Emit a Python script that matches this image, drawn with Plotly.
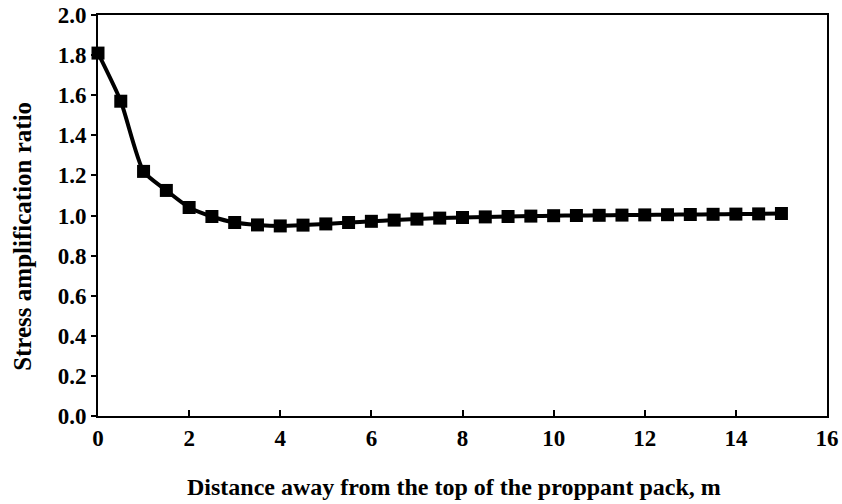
import plotly.graph_objects as go

distance = [0, 0.5, 1, 1.5, 2, 2.5, 3, 3.5, 4, 4.5, 5, 5.5, 6, 6.5, 7, 7.5, 8, 8.5, 9, 9.5,
            10, 10.5, 11, 11.5, 12, 12.5, 13, 13.5, 14, 14.5, 15]
ratio = [1.81, 1.57, 1.22, 1.125, 1.04, 0.995, 0.965, 0.953, 0.948, 0.952, 0.958, 0.965,
         0.971, 0.977, 0.982, 0.987, 0.99, 0.993, 0.995, 0.997, 0.999, 1.0, 1.001, 1.002,
         1.003, 1.004, 1.005, 1.006, 1.007, 1.008, 1.01]

x_ticks = [0, 2, 4, 6, 8, 10, 12, 14, 16]
y_ticks = [0.0, 0.2, 0.4, 0.6, 0.8, 1.0, 1.2, 1.4, 1.6, 1.8, 2.0]

x_title = "Distance away from the top of the proppant pack, m"
y_title = "Stress amplification ratio"

font = "Liberation Serif"

fig = go.Figure()
fig.add_trace(go.Scatter(
    x=distance, y=ratio, mode="lines+markers",
    line=dict(color="black", width=4, shape="spline", smoothing=0.6),
    marker=dict(symbol="square", size=13, color="black"),
    showlegend=False, cliponaxis=False,
))

fig.update_layout(
    width=842, height=504,
    margin=dict(l=98, r=15, t=15, b=88),
    paper_bgcolor="white", plot_bgcolor="white",
    font=dict(family=font, size=22, color="black"),
    annotations=[
        dict(text=f"<b>{x_title}</b>", xref="paper", yref="paper", x=0.488, y=-0.178,
             xanchor="center", yanchor="middle", showarrow=False,
             font=dict(family=font, size=24, color="black")),
        dict(text=f"<b>{y_title}</b>", xref="paper", yref="paper", x=-0.103, y=0.449,
             xanchor="center", yanchor="middle", showarrow=False, textangle=-90,
             font=dict(family=font, size=25, color="black")),
    ],
)
fig.update_xaxes(
    range=[0, 16], tickvals=x_ticks, ticktext=[f"<b>{v}</b>" for v in x_ticks],
    showgrid=False, zeroline=False, showline=True, linecolor="black", linewidth=2,
    mirror=True, ticks="inside", ticklen=6, tickwidth=2, tickcolor="black",
    tickfont=dict(family=font, size=23, color="black"),
    automargin=False, ticklabeloverflow="allow",
)
fig.update_yaxes(
    range=[0, 2.0], tickvals=y_ticks, ticktext=[f"<b>{v:.1f}</b>" for v in y_ticks],
    showgrid=False, zeroline=False, showline=True, linecolor="black", linewidth=2,
    mirror=True, ticks="outside", ticklen=5, tickwidth=2, tickcolor="black",
    tickfont=dict(family=font, size=23, color="black"),
    automargin=False, ticklabeloverflow="allow",
)

fig.write_html("out.html", config={"displayModeBar": False},
               post_script="document.body.style.margin='0';")
